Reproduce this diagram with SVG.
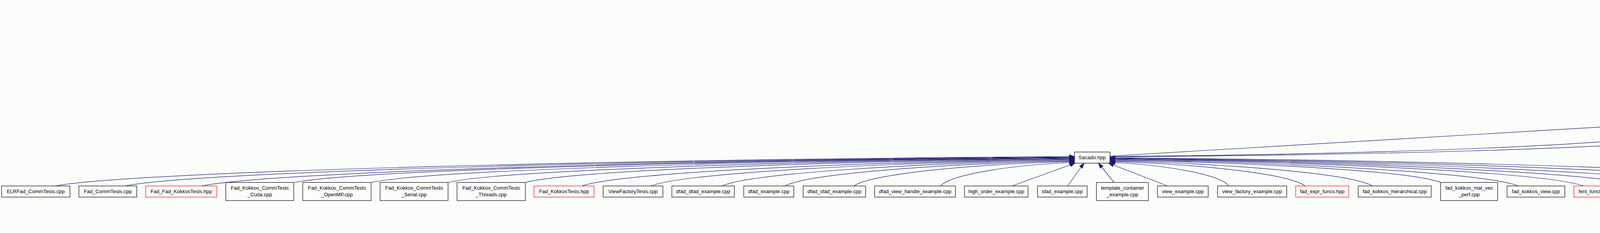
<svg xmlns="http://www.w3.org/2000/svg" width="7133" height="597" viewBox="0 0 7133 597">
<defs>
<style>
.bg{fill:#fbfdfb}
.n rect{fill:#fbfdfb;stroke:#000;stroke-width:1.2}
.r rect{stroke:#ff0000}
.g rect{fill:#bfbfbf}
text{font-family:"Liberation Sans",Arial,Helvetica,sans-serif;font-size:13px;text-anchor:middle;fill:#000}
.e path{fill:none;stroke:#191970;stroke-width:1.2;marker-end:url(#a)}
</style>
<marker id="a" markerUnits="userSpaceOnUse" markerWidth="14" markerHeight="10" refX="13" refY="4.7" orient="auto" viewBox="0 0 14 10" overflow="visible"><path d="M0,0 L13,4.7 L0,9.4 z" fill="#191970" stroke="#191970" stroke-width="1"/></marker>
</defs>
<rect class="bg" x="0" y="0" width="7133" height="597"/>

<g id="nodes">
<g id="n_ops" class="n g"><rect x="4425.5" y="6" width="159" height="46"/><text><tspan x="4505" y="24">Sacado_ELRCacheFad</tspan><tspan x="4505" y="41">_Ops.hpp</tspan></text></g>
<g id="n_gfe" class="n"><rect x="4343" y="102.5" width="159" height="46"/><text><tspan x="4422.5" y="120.5">Sacado_ELRCacheFad</tspan><tspan x="4422.5" y="137.5">_GeneralFadExpr.hpp</tspan></text></g>
<g id="n_viewfad" class="n"><rect x="4306" y="198.5" width="159" height="46"/><text><tspan x="4385.5" y="216.5">Sacado_ELRCacheFad</tspan><tspan x="4385.5" y="233.5">_ViewFad.hpp</tspan></text></g>
<g id="n_dfad" class="n"><rect x="4146" y="295" width="159" height="46"/><text><tspan x="4225.5" y="313">Sacado_ELRCacheFad</tspan><tspan x="4225.5" y="330">_DFad.hpp</tspan></text></g>
<g id="n_slfad" class="n"><rect x="4327" y="295" width="159" height="46"/><text><tspan x="4406.5" y="313">Sacado_ELRCacheFad</tspan><tspan x="4406.5" y="330">_SLFad.hpp</tspan></text></g>
<g id="n_sfad" class="n"><rect x="4508" y="295" width="159" height="46"/><text><tspan x="4587.5" y="313">Sacado_ELRCacheFad</tspan><tspan x="4587.5" y="330">_SFad.hpp</tspan></text></g>
<g id="n_sacado" class="n"><rect x="2750.5" y="389.5" width="91" height="28.5"/><text x="2796" y="407.75">Sacado.hpp</text></g>
<g id="n_nokokkos" class="n r"><rect x="5925.5" y="389.5" width="167" height="28.5"/><text x="6009" y="407.75">Sacado_No_Kokkos.hpp</text></g>

<g id="n1" class="n"><rect x="4" y="476.5" width="175" height="28.5"/><text x="91.5" y="494.75">ELRFad_CommTests.cpp</text></g>
<g id="n2" class="n"><rect x="202" y="476.5" width="148" height="28.5"/><text x="276" y="494.75">Fad_CommTests.cpp</text></g>
<g id="n3" class="n r"><rect x="373" y="476.5" width="182" height="28.5"/><text x="464" y="494.75">Fad_Fad_KokkosTests.hpp</text></g>
<g id="n4" class="n"><rect x="578" y="467.5" width="174" height="46.5"/><text><tspan x="665" y="485.75">Fad_Kokkos_CommTests</tspan><tspan x="665" y="502.75">_Cuda.cpp</tspan></text></g>
<g id="n5" class="n"><rect x="775" y="467.5" width="175" height="46.5"/><text><tspan x="862.5" y="485.75">Fad_Kokkos_CommTests</tspan><tspan x="862.5" y="502.75">_OpenMP.cpp</tspan></text></g>
<g id="n6" class="n"><rect x="973" y="467.5" width="174" height="46.5"/><text><tspan x="1060" y="485.75">Fad_Kokkos_CommTests</tspan><tspan x="1060" y="502.75">_Serial.cpp</tspan></text></g>
<g id="n7" class="n"><rect x="1170" y="467.5" width="175" height="46.5"/><text><tspan x="1257.5" y="485.75">Fad_Kokkos_CommTests</tspan><tspan x="1257.5" y="502.75">_Threads.cpp</tspan></text></g>
<g id="n8" class="n r"><rect x="1367" y="476.5" width="154" height="28.5"/><text x="1444" y="494.75">Fad_KokkosTests.hpp</text></g>
<g id="n9" class="n"><rect x="1544" y="476.5" width="153" height="28.5"/><text x="1620.5" y="494.75">ViewFactoryTests.cpp</text></g>
<g id="n10" class="n"><rect x="1720" y="476.5" width="160" height="28.5"/><text x="1800" y="494.75">dfad_dfad_example.cpp</text></g>
<g id="n11" class="n"><rect x="1904" y="476.5" width="128" height="28.5"/><text x="1968" y="494.75">dfad_example.cpp</text></g>
<g id="n12" class="n"><rect x="2056" y="476.5" width="160" height="28.5"/><text x="2136" y="494.75">dfad_sfad_example.cpp</text></g>
<g id="n13" class="n"><rect x="2239" y="476.5" width="207" height="28.5"/><text x="2342.5" y="494.75">dfad_view_handle_example.cpp</text></g>
<g id="n14" class="n"><rect x="2469" y="476.5" width="163" height="28.5"/><text x="2550.5" y="494.75">high_order_example.cpp</text></g>
<g id="n15" class="n"><rect x="2656" y="476.5" width="127" height="28.5"/><text x="2719.5" y="494.75">sfad_example.cpp</text></g>
<g id="n16" class="n"><rect x="2807" y="467.5" width="133" height="46.5"/><text><tspan x="2873.5" y="485.75">template_container</tspan><tspan x="2873.5" y="502.75">_example.cpp</tspan></text></g>
<g id="n17" class="n"><rect x="2963" y="476.5" width="130" height="28.5"/><text x="3028" y="494.75">view_example.cpp</text></g>
<g id="n18" class="n"><rect x="3117" y="476.5" width="177" height="28.5"/><text x="3205.5" y="494.75">view_factory_example.cpp</text></g>
<g id="n19" class="n r"><rect x="3317" y="476.5" width="136" height="28.5"/><text x="3385" y="494.75">fad_expr_funcs.hpp</text></g>
<g id="n20" class="n"><rect x="3477" y="476.5" width="187" height="28.5"/><text x="3570.5" y="494.75">fad_kokkos_hierarchical.cpp</text></g>
<g id="n21" class="n"><rect x="3688" y="467.5" width="146" height="46.5"/><text><tspan x="3761" y="485.75">fad_kokkos_mat_vec</tspan><tspan x="3761" y="502.75">_perf.cpp</tspan></text></g>
<g id="n22" class="n"><rect x="3858" y="476.5" width="148" height="28.5"/><text x="3932" y="494.75">fad_kokkos_view.cpp</text></g>
<g id="n23" class="n r"><rect x="4029" y="476.5" width="124" height="28.5"/><text x="4091" y="494.75">fenl_functors.hpp</text></g>
<g id="n24" class="n r"><rect x="4176" y="476.5" width="123" height="28.5"/><text x="4237.5" y="494.75">fenl_functors.hpp</text></g>
<g id="n25" class="n"><rect x="4322" y="476.5" width="187" height="28.5"/><text x="4415.5" y="494.75">CacheFad_CommTests.cpp</text></g>
<g id="n26" class="n"><rect x="4532" y="476.5" width="208" height="28.5"/><text x="4636" y="494.75">ConditionalReturnTypeTest.cpp</text></g>
<g id="n27" class="n"><rect x="4762" y="476.5" width="212" height="28.5"/><text x="4868" y="494.75">ELRCacheFad_CommTests.cpp</text></g>
<g id="n28" class="n"><rect x="4996" y="476.5" width="154" height="28.5"/><text x="5073" y="494.75">dfad_sfc_example.cpp</text></g>
<g id="n29" class="n"><rect x="5172" y="476.5" width="167" height="28.5"/><text x="5255.5" y="494.75">dfad_taylor_example.cpp</text></g>
<g id="n30" class="n"><rect x="5363" y="476.5" width="139" height="28.5"/><text x="5432.5" y="494.75">dmfad_example.cpp</text></g>
<g id="n31" class="n"><rect x="5525" y="476.5" width="143" height="28.5"/><text x="5596.5" y="494.75">sparse_example.cpp</text></g>
<g id="n32" class="n"><rect x="5690" y="476.5" width="135" height="28.5"/><text x="5757.5" y="494.75">taylor_example.cpp</text></g>
<g id="n33" class="n"><rect x="5848" y="476.5" width="157" height="28.5"/><text x="5926.5" y="494.75">trad_dfad_example.cpp</text></g>
<g id="n34" class="n"><rect x="6029" y="476.5" width="126" height="28.5"/><text x="6092" y="494.75">trad_example.cpp</text></g>
<g id="n35" class="n"><rect x="6178" y="476.5" width="151" height="28.5"/><text x="6253.5" y="494.75">trad_sfc_example.cpp</text></g>
<g id="n36" class="n"><rect x="6351" y="476.5" width="98" height="28.5"/><text x="6400" y="494.75">fad_expr.cpp</text></g>
<g id="n37" class="n r"><rect x="6522" y="476.5" width="161" height="28.5"/><text x="6602.5" y="494.75">Sacado_Fad_BLAS.hpp</text></g>
<g id="n38" class="n r"><rect x="6807" y="476.5" width="181" height="28.5"/><text x="6897.5" y="494.75">Sacado_Fad_LAPACK.hpp</text></g>
<g id="n39" class="n"><rect x="7011" y="476.5" width="117" height="28.5"/><text x="7069.5" y="494.75">ad_example.cpp</text></g>
<g id="n40" class="n"><rect x="6399" y="562.5" width="127" height="28.5"/><text x="6462.5" y="580.75">blas_example.cpp</text></g>
<g id="n41" class="n"><rect x="6549" y="562.5" width="171" height="28.5"/><text x="6634.5" y="580.75">vector_blas_example.cpp</text></g>
<g id="n42" class="n"><rect x="6744" y="562.5" width="96" height="28.5"/><text x="6792" y="580.75">fad_blas.cpp</text></g>
</g>

<g id="edges" class="e">
<path d="M4442.5,102.5 L4486.4,52"/>
<path d="M4581,295 L4511.4,52"/>
<path d="M4234,295 C4255,240 4300,180 4366,148.5"/>
<path d="M4394,198.5 L4414.6,148.5"/>
<path d="M4437,295 C4480,262 4505,205 4446,148.5"/>
<path d="M4263,295 L4345.4,244.5"/>
<path d="M4401.4,295 L4391.8,244.5"/>
<path d="M4539.6,295 L4433.6,244.5"/>
<path d="M2841.5,400 L4146,322.7"/>
<path d="M2841.5,401 C3400,396 4050,380 4328,341"/>
<path d="M2841.5,402 C3400,398 4200,385 4509,341"/>
<path d="M5925.5,403 C5300,396 4600,383 4304,341"/>
<path d="M5925.5,401 C5300,393 4750,380 4485,341"/>
<path d="M5925.5,398.5 L4667,322.7"/>

<path d="M141.6,476.5 C350,438.75 1576,408.5 2750.5,401"/>
<path d="M320,476.5 C514,439 1656,409.5 2750.5,402"/>
<path d="M516.6,476.5 C695,440 1745,410 2750.5,403"/>
<path d="M753.8,467.5 C914,436 1852,410.5 2750.5,404"/>
<path d="M951,467.5 C1095,436 1940,411 2750.5,405"/>
<path d="M1147,467.5 C1275,437 2029,412 2750.5,406"/>
<path d="M1345,467.5 C1457,437 2118,413 2750.5,407"/>
<path d="M1489.6,476.5 C1590,442 2183,415 2750.5,408"/>
<path d="M1666,476.5 C1753,443 2262,416 2750.5,409.5"/>
<path d="M1848.6,476.5 C1921,444 2345,417.5 2750.5,411"/>
<path d="M2009.5,476.5 C2069,444.5 2417,419 2750.5,412.5"/>
<path d="M2186,476.5 C2231,445 2496,420 2750.5,414"/>
<path d="M2407.6,476.5 C2435,446 2596,422 2750.5,416"/>
<path d="M2591,476.5 L2752,418"/>
<path d="M2733,476.5 L2775,418"/>
<path d="M2852,467.5 L2812,418"/>
<path d="M2989,476.5 L2838,418"/>
<path d="M3146,476.5 C3122,446 2978.5,422 2841.5,416"/>
<path d="M3341,476.5 C3301,445 3066,420 2841.5,414"/>
<path d="M3513.5,476.5 C3460,444.5 3144,419 2841.5,412.5"/>
<path d="M3688,467.5 C3620,439 3222.5,416.5 2841.5,411"/>
<path d="M3887,476.5 C3803,443 3312,416 2841.5,409.5"/>
<path d="M4053.8,476.5 C3957,442 3387,415 2841.5,408"/>
<path d="M4200.8,476.5 C4092,442 3453,414 2841.5,407"/>
<path d="M4361.5,476.5 C4240,441 3525.5,413 2841.5,406"/>
<path d="M4577,476.5 C4438,441 3622.5,412 2841.5,405"/>
<path d="M4807.4,476.5 C4650,440 3726,411 2841.5,404"/>

<path d="M5119.6,476.5 C5184,442 5563,415 5925.5,408"/>
<path d="M5307,476.5 C5356.5,444 5647,417.5 5925.5,411"/>
<path d="M5475.5,476.5 C5511.5,445 5723,420 5925.5,414"/>
<path d="M5644,476.5 C5667,447 5800,424 5927,418"/>
<path d="M5798.5,476.5 L5956,418"/>
<path d="M5940,476.5 L5987,418"/>
<path d="M6078.4,476.5 L6026,418"/>
<path d="M6212,476.5 L6054,418"/>
<path d="M6366,476.5 C6330,455 6180,438 6095,418"/>
<path d="M6549,476.5 C6480,455 6250,430 6092.5,414"/>
<path d="M6840,476.5 C6760,445 6400,420 6092.5,406"/>
<path d="M7032.7,476.5 C6980,450 6515,409.5 6092.5,402"/>
<path d="M6467,562.5 C6478,520 6475,470 6440,455 C6350,425 6200,416 6092.5,411"/>
<path d="M6652,562.5 C6690,505 6720,470 6660,450 C6560,420 6300,412 6092.5,408"/>
<path d="M6785.6,562.5 C6770,510 6740,470 6690,450 C6580,420 6300,410 6092.5,404.5"/>
<path d="M6485.5,562.5 L6572,505"/>
<path d="M6629.5,562.5 L6608,505"/>
<path d="M6759.5,562.5 L6641,505"/>
</g>
</svg>
